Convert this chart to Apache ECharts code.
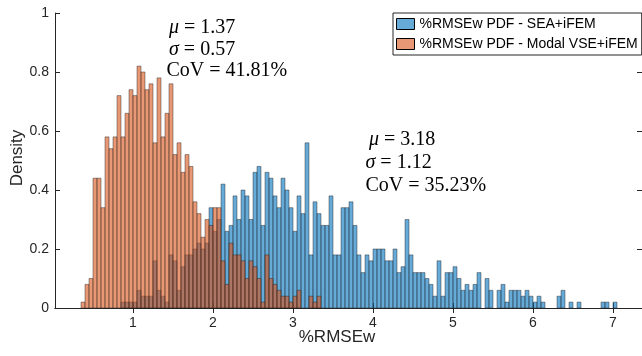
<!DOCTYPE html>
<html>
<head>
<meta charset="utf-8">
<script src="https://cdn.jsdelivr.net/npm/echarts@6/dist/echarts.min.js"></script>
<style>
html,body{margin:0;padding:0;background:#fff;}
#chart{width:642px;height:356px;}
</style>
</head>
<body>
<div id="chart"></div>
<script>
// ---- data (histogram PDFs, bin width 0.05) ----
const binWidth = 0.05;
const seaStart = 0.85;   // first bin left edge, SEA+iFEM
const seaDensity = [
  0.02,0.02,0.02,0.02,0.06,0.04,0.04,0.04,0.16,0.06,
  0.04,0.02,0.18,0.16,0.06,0.14,0.18,0.18,0.20,0.22,
  0.20,0.22,0.34,0.26,0.30,0.42,0.26,0.28,0.38,0.30,
  0.40,0.38,0.30,0.46,0.48,0.28,0.46,0.44,0.38,0.34,
  0.44,0.40,0.34,0.26,0.38,0.32,0.56,0.18,0.36,0.32,
  0.28,0.28,0.38,0.18,0.18,0.34,0.34,0.36,0.28,0.18,
  0.12,0.18,0.16,0.20,0.20,0.20,0.16,0.16,0.20,0.12,
  0.14,0.30,0.18,0.12,0.12,0.12,0.10,0.08,0.04,0.16,
  0.04,0.12,0.12,0.14,0.10,0.06,0.08,0.06,0.08,0.12,
  0.00,0.10,0.06,0.00,0.06,0.08,0.02,0.06,0.06,0.06,
  0.04,0.06,0.04,0.02,0.04,0.02,0.00,0.00,0.00,0.04,
  0.06,0.00,0.02,0.00,0.02,0.00,0.00,0.00,0.00,0.00,
  0.02,0.02,0.00,0.02
];
const vseStart = 0.35;   // first bin left edge, Modal VSE+iFEM
const vseDensity = [
  0.02,0.08,0.10,0.44,0.44,0.34,0.58,0.54,0.58,0.72,
  0.58,0.66,0.74,0.72,0.82,0.80,0.74,0.76,0.56,0.78,
  0.58,0.66,0.76,0.52,0.56,0.46,0.52,0.48,0.36,0.32,
  0.24,0.30,0.28,0.34,0.34,0.16,0.08,0.22,0.18,0.18,
  0.16,0.10,0.16,0.14,0.10,0.02,0.18,0.10,0.08,0.06,
  0.04,0.04,0.02,0.04,0.06,0.00,0.00,0.04,0.02,0.04
];
const seriesNames = ['%RMSEw PDF - SEA+iFEM', '%RMSEw PDF - Modal VSE+iFEM'];
const xTicks = [1,2,3,4,5,6,7];
const stats1 = ['1.37','0.57','41.81%'];
const stats2 = ['3.18','1.12','35.23%'];

function toBins(start, dens){
  return dens.map((d,i)=>[+(start+i*binWidth).toFixed(3), +(start+(i+1)*binWidth).toFixed(3), d]);
}

const colSEA = 'rgba(0,114,189,0.6)';
const colVSE = 'rgba(217,83,25,0.6)';
const edge = 'rgba(30,30,30,0.6)';

function makeRender(fill){
  return function(params, api){
    const h = api.value(2);
    if (!(h > 0)) return null;
    const p0 = api.coord([api.value(0), h]);
    const p1 = api.coord([api.value(1), 0]);
    return {
      type:'rect',
      shape:{x:p0[0], y:p0[1], width:p1[0]-p0[0], height:p1[1]-p0[1]},
      style:{fill:fill, stroke:edge, lineWidth:0.7}
    };
  };
}

const axisCol = '#262626';
const chart = echarts.init(document.getElementById('chart'), null, {renderer:'canvas'});
const serifRich = {
  i:{fontFamily:'Liberation Serif', fontStyle:'italic', fontSize:20, fill:'#000'},
  n:{fontFamily:'Liberation Serif', fontSize:20, fill:'#000'}
};
function statText(x, y, str){
  return {type:'text', x:x, y:y, style:{text:str, rich:serifRich, font:'20px "Liberation Serif"', fill:'#000', verticalAlign:'middle', align:'left'}};
}

chart.setOption({
  animation:false,
  grid:{left:55, right:0, top:13, bottom:48, containLabel:false},
  xAxis:[{
    type:'value', min:0.025, max:7.3625, position:'bottom',
    axisLine:{show:true, lineStyle:{color:axisCol, width:1}},
    axisTick:{show:true, inside:true, length:5, customValues:xTicks, lineStyle:{color:axisCol}},
    axisLabel:{show:true, customValues:xTicks, color:axisCol, fontFamily:'Liberation Sans', fontSize:14, margin:8},
    splitLine:{show:false}
  },{
    type:'value', min:0.025, max:7.3625, position:'top',
    axisLine:{show:true, lineStyle:{color:axisCol, width:1}},
    axisTick:{show:true, inside:true, length:5, customValues:xTicks, lineStyle:{color:axisCol}},
    axisLabel:{show:false},
    splitLine:{show:false}
  }],
  yAxis:[{
    type:'value', min:0, max:1, interval:0.2, position:'left',
    axisLine:{show:true, lineStyle:{color:axisCol, width:1}},
    axisTick:{show:true, inside:true, length:5, lineStyle:{color:axisCol}},
    axisLabel:{color:axisCol, fontFamily:'Liberation Sans', fontSize:14, margin:6},
    splitLine:{show:false}
  },{
    type:'value', min:0, max:1, interval:0.2, position:'right',
    axisLine:{show:true, lineStyle:{color:axisCol, width:1}},
    axisTick:{show:true, inside:true, length:5, lineStyle:{color:axisCol}},
    axisLabel:{show:false},
    splitLine:{show:false}
  }],
  legend:{
    orient:'vertical', left:393, top:13,
    data:seriesNames,
    backgroundColor:'#fff', borderColor:axisCol, borderWidth:1,
    padding:[4,4,4,3], itemGap:6, itemWidth:18, itemHeight:11,
    icon:'rect',
    textStyle:{fontFamily:'Liberation Sans', fontSize:14, color:'#000'},
    itemStyle:{borderColor:'#000', borderWidth:1}
  },
  series:[{
    name:seriesNames[0], type:'custom', xAxisIndex:0, yAxisIndex:0,
    renderItem:makeRender(colSEA), encode:{x:[0,1], y:2},
    itemStyle:{color:colSEA},
    data:toBins(seaStart, seaDensity), z:2
  },{
    name:seriesNames[1], type:'custom', xAxisIndex:0, yAxisIndex:0,
    renderItem:makeRender(colVSE), encode:{x:[0,1], y:2},
    itemStyle:{color:colVSE},
    data:toBins(vseStart, vseDensity), z:3
  }],
  graphic:[
    statText(169, 27.5, '{i|μ}{n| = '+stats1[0]+'}'),
    statText(169, 49.5, '{i|σ}{n| = '+stats1[1]+'}'),
    statText(166.5, 71, '{n|CoV = '+stats1[2]+'}'),
    statText(369, 139.5, '{i|μ}{n| = '+stats2[0]+'}'),
    statText(365.5, 163, '{i|σ}{n| = '+stats2[1]+'}'),
    statText(365.5, 186, '{n|CoV = '+stats2[2]+'}'),
    {type:'text', x:337, y:337, style:{text:'%RMSEw', font:'17px "Liberation Sans"', fill:axisCol, align:'center', verticalAlign:'middle'}},
    {type:'text', x:17, y:158, rotation:Math.PI/2, style:{text:'Density', font:'17px "Liberation Sans"', fill:axisCol, align:'center', verticalAlign:'middle'}}
  ]
});
</script>
</body>
</html>
